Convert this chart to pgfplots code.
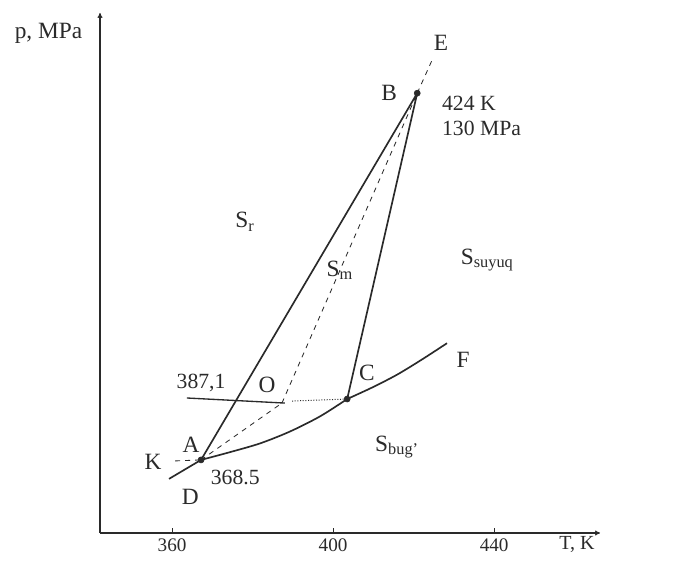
\documentclass[border=0pt]{standalone}
\usepackage{fontspec}
\setmainfont{Liberation Serif}
\usepackage{pgfplots}
\pgfplotsset{compat=1.18}
\usetikzlibrary{arrows.meta}
\definecolor{ink}{HTML}{2A2A2A}
\begin{document}
\begin{tikzpicture}
\useasboundingbox (-60pt,-21.6pt) rectangle (357.6pt,319.8pt);
\begin{axis}[
  at={(0,0)}, anchor=south west,
  scale only axis, width=300pt, height=312pt,
  xmin=342.1, xmax=466.3, ymin=0, ymax=153.7,
  axis lines=left,
  axis line style={ink, line width=0.7pt, -{To[length=3pt,width=3pt]}},
  xtick={360,400,440}, ytick=\empty,
  tick align=inside, major tick length=3pt,
  tick style={ink, line width=0.6pt},
  xticklabel style={font=\fontsize{11.5}{13}\selectfont, text=ink},
  /pgf/number format/assume math mode=true,
  clip=false,
]
% sublimation / vapour curves
\addplot[ink, line width=1pt] coordinates {(359.25,16.0)(367.2,21.6)};
\addplot[ink, line width=1pt, smooth] coordinates {(367.2,21.6)(374.4,23.9)(381.9,26.5)(389.3,30.0)(396.8,34.5)(403.5,39.6)};
\addplot[ink, line width=1pt, smooth] coordinates {(403.5,39.6)(409.7,43.0)(415.9,46.8)(422.1,51.3)(428.3,56.1)};
% A-B and C-B
\addplot[ink, line width=1pt] coordinates {(367.2,21.6)(420.9,130)};
\addplot[ink, line width=1pt] coordinates {(403.5,39.6)(420.9,130)};
% metastable lines
\addplot[ink, line width=0.5pt, dashed] coordinates {(367.2,21.6)(387.3,38.4)};
\addplot[ink, line width=0.5pt, dashed] coordinates {(387.3,38.4)(420.9,130)};
\addplot[ink, line width=0.5pt, dashed] coordinates {(420.9,130)(424.6,139.8)};
\addplot[ink, line width=0.5pt, dashed] coordinates {(360.75,21.3)(367.2,21.6)};
\addplot[ink, line width=0.6pt, densely dotted] coordinates {(389.8,39.0)(403.5,39.6)};
\addplot[ink, line width=0.8pt] coordinates {(363.7,39.9)(388.0,38.4)};
% points
\addplot[only marks, mark=*, mark size=1.8pt, ink] coordinates {(367.2,21.6)(403.5,39.6)(420.9,130)};
% labels
\begin{scope}[every node/.style={text=ink}]
\node[font=\fontsize{14}{16}\selectfont] at (axis cs:329.3,147.8) {p, MPa};
\node[font=\fontsize{12}{14}\selectfont] at (axis cs:460.6,-3.5) {T, K};
\node[font=\fontsize{14}{16}\selectfont] at (axis cs:426.8,144.8) {E};
\node[font=\fontsize{14}{16}\selectfont] at (axis cs:413.9,130.0) {B};
\node[font=\fontsize{13}{15}\selectfont, anchor=west, inner sep=0pt] at (axis cs:427.0,127.1) {424 K};
\node[font=\fontsize{13}{15}\selectfont, anchor=west, inner sep=0pt] at (axis cs:427.0,119.7) {130 MPa};
\node[font=\fontsize{14}{16}\selectfont] at (axis cs:378.1,91.9) {S\textsubscript{r}};
\node[font=\fontsize{14}{16}\selectfont] at (axis cs:401.7,77.7) {S\textsubscript{m}};
\node[font=\fontsize{14}{16}\selectfont] at (axis cs:438.3,80.7) {S\textsubscript{suyuq}};
\node[font=\fontsize{14}{16}\selectfont] at (axis cs:415.9,25.4) {S\textsubscript{bug'}};
\node[font=\fontsize{14}{16}\selectfont] at (axis cs:432.3,51.1) {F};
\node[font=\fontsize{14}{16}\selectfont] at (axis cs:408.4,47.3) {C};
\node[font=\fontsize{14}{16}\selectfont] at (axis cs:383.6,43.7) {O};
\node[font=\fontsize{13}{15}\selectfont] at (axis cs:367.2,44.3) {387,1};
\node[font=\fontsize{14}{16}\selectfont] at (axis cs:364.7,26.0) {A};
\node[font=\fontsize{14}{16}\selectfont] at (axis cs:355.3,21.0) {K};
\node[font=\fontsize{13}{15}\selectfont] at (axis cs:375.7,16.3) {368.5};
\node[font=\fontsize{14}{16}\selectfont] at (axis cs:364.5,10.6) {D};
\end{scope}
\end{axis}
\end{tikzpicture}
\end{document}
